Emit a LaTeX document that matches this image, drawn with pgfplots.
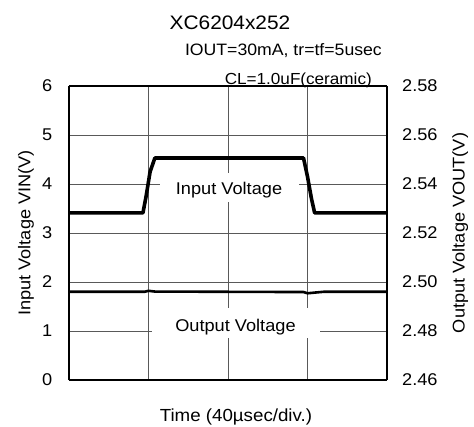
\documentclass[border=0pt]{standalone}
\usepackage{pgfplots}
\pgfplotsset{compat=1.18}
\usepackage{fontspec}
\setmainfont[FakeStretch=1.07]{Liberation Sans}
\begin{document}
\begin{tikzpicture}
\path[use as bounding box] (-69bp,-47bp) rectangle (405bp,380bp);
\pgfplotsset{
  common/.style={
    scale only axis, width=318bp, height=294bp,
    xmin=0, xmax=4,
    major tick length=0pt,
    tick label style={font=\fontsize{17bp}{20bp}\selectfont, inner sep=0pt},
    label style={font=\fontsize{17bp}{20bp}\selectfont, inner sep=0pt},
    /pgf/number format/assume math mode=true,
    axis line style={line width=1.5bp, black},
  }
}
\begin{axis}[common,
  ymin=0, ymax=6,
  axis y line*=left, axis x line*=box,
  xtick={0,1,2,3,4}, xticklabels={},
  ytick={0,1,2,3,4,5,6},
  yticklabel style={xshift=-16.5bp},
  grid=major,
  grid style={line width=0.8bp, black!65},
  ylabel={Input Voltage VIN(V)},
  ylabel style={at={([xshift=-35bp]axis description cs:0,0.5)}, anchor=south},
  xlabel={Time (40µsec/div.)},
  xlabel style={at={([yshift=-41.7bp]axis description cs:0.525,0)}, anchor=base, font=\fontsize{17.5bp}{20bp}\selectfont},
]
\addplot[black, line width=3.6bp, line join=round] coordinates {
  (0,3.41) (0.93,3.41) (0.97,3.75) (1.02,4.25) (1.08,4.53)
  (2.95,4.53) (3.0,4.15) (3.05,3.70) (3.09,3.41) (4,3.41)
};
\fill[white] (axis cs:1.145,3.633) rectangle (axis cs:2.893,4.224);
\fill[white] (axis cs:1.044,0.857) rectangle (axis cs:3.157,1.469);
\node[anchor=base, font=\fontsize{17bp}{20bp}\selectfont, inner sep=0pt] at (axis cs:2.013,3.776) {Input Voltage};
\node[anchor=base, font=\fontsize{17bp}{20bp}\selectfont, inner sep=0pt] at (axis cs:2.094,0.980) {Output Voltage};
\end{axis}
\begin{axis}[common,
  ymin=2.46, ymax=2.58,
  axis y line*=right, axis x line=none,
  ytick={2.46,2.48,2.50,2.52,2.54,2.56,2.58},
  yticklabel style={xshift=15bp, /pgf/number format/.cd, fixed, fixed zerofill, precision=2},
  ylabel={Output Voltage VOUT(V)},
  ylabel style={at={([xshift=65bp]axis description cs:1,0.5)}, anchor=north},
]
\addplot[black, line width=2.6bp, line join=round] coordinates {
  (0,2.4960) (0.95,2.4960) (1.0,2.4964) (1.08,2.4961) (2.0,2.4960)
  (2.95,2.4959) (3.0,2.4954) (3.1,2.4957) (3.2,2.4960) (4,2.4960)
};
\end{axis}
\node[anchor=base, font=\fontsize{19.5bp}{23bp}\selectfont, inner sep=0pt] at (161bp,350.7bp) {XC6204x252};
\node[anchor=base east, font=\fontsize{16.5bp}{19bp}\selectfont, inner sep=0pt] at (313bp,324bp) {IOUT=30mA, tr=tf=5usec};
\node[anchor=base east, font=\fontsize{16bp}{19bp}\selectfont, inner sep=0pt] at (303bp,295.5bp) {CL=1.0uF(ceramic)};
\end{tikzpicture}
\end{document}
